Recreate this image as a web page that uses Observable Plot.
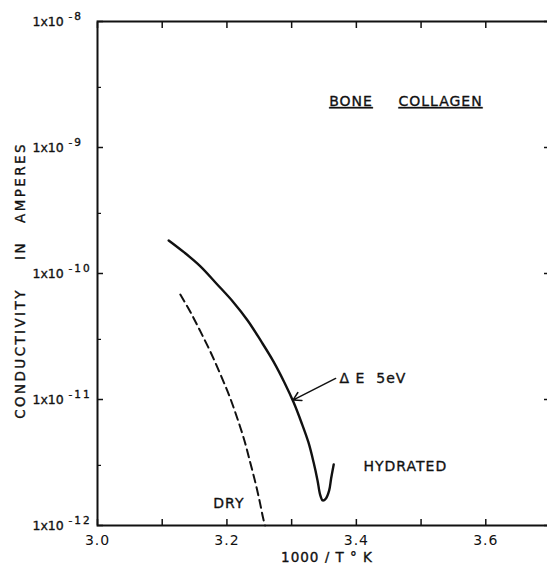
<!DOCTYPE html>
<html><head><meta charset="utf-8">
<script src="https://cdn.jsdelivr.net/npm/d3@7"></script>
<script src="https://cdn.jsdelivr.net/npm/@observablehq/plot@0.6"></script>
<style>html,body{margin:0;padding:0;background:#fff;overflow:hidden}</style>
</head><body><div id="chart"></div>
<script>
// ---- data ----
const xTickValues = [3.0, 3.1, 3.2, 3.3, 3.4, 3.5, 3.6, 3.7];
const xTickLabels = [3.0, 3.2, 3.4, 3.6];
const yTickValues = [1e-8, 1e-9, 1e-10, 1e-11, 1e-12];
const yTickExponents = ["-8", "-9", "-10", "-11", "-12"];
const yMinorTicks = [3e-9, 3e-10, 3e-11, 3e-12];

// hydrated bone collagen (solid)
const hydratedX = [3.110, 3.134, 3.159, 3.184, 3.209, 3.232, 3.253, 3.272, 3.289, 3.303, 3.315, 3.326, 3.334, 3.340, 3.344, 3.348, 3.353, 3.358, 3.361, 3.365];
const hydratedY = [1.83e-10, 1.47e-10, 1.14e-10, 8.3e-11, 6.0e-11, 4.24e-11, 2.89e-11, 2.0e-11, 1.36e-11, 9.5e-12, 6.6e-12, 4.56e-12, 3.16e-12, 2.28e-12, 1.76e-12, 1.58e-12, 1.64e-12, 1.9e-12, 2.36e-12, 3.05e-12];

// dry bone collagen (dashed)
const dryX = [3.128, 3.144, 3.159, 3.175, 3.190, 3.204, 3.216, 3.227, 3.236, 3.244, 3.251, 3.256, 3.259];
const dryY = [6.8e-11, 4.9e-11, 3.47e-11, 2.36e-11, 1.58e-11, 1.06e-11, 7.1e-12, 4.73e-12, 3.16e-12, 2.19e-12, 1.52e-12, 1.14e-12, 1.0e-12];

const notes = [
  {text: "BONE", x: 3.358, y: Math.pow(10, -8.635), underline: true},
  {text: "COLLAGEN", x: 3.465, y: Math.pow(10, -8.635), underline: true},
  {text: "HYDRATED", x: 3.411, y: Math.pow(10, -11.532), underline: false},
  {text: "DRY", x: 3.179, y: Math.pow(10, -11.825), underline: false},
  {text: "Δ E\u00a0\u00a05eV", x: 3.374, y: Math.pow(10, -10.833), underline: false}
];
const arrowData = [{x1: 3.368, y1: 1.47e-11, x2: 3.302, y2: 9.9e-12}];

const yTitleWords = ["CONDUCTIVITY", "IN", "AMPERES"];
const yTitleShift = [80, -23, -91];
const xTitle = ["1000\u00a0/\u00a0T\u00a0°\u00a0K"];

const hydrated = hydratedX.map((x, i) => ({x, y: hydratedY[i]}));
const dry = dryX.map((x, i) => ({x, y: dryY[i]}));
const yTicks = yTickValues.map((v, i) => ({v, e: yTickExponents[i]}));

const font = "'DejaVu Sans', sans-serif";
const ink = "#111";
const thick = {fill: ink, stroke: ink, strokeWidth: 0.35};

const chart = Plot.plot({
  width: 547,
  height: 563,
  marginLeft: 97,
  marginRight: -3,
  marginTop: 21,
  marginBottom: 38,
  style: {fontFamily: font, color: ink, background: "#fff", letterSpacing: "1px"},
  x: {type: "linear", domain: [3.0, 3.7], label: null},
  y: {type: "log", domain: [1e-12, 1e-8], label: null},
  marks: [
    Plot.frame({stroke: ink, strokeWidth: 2}),
    // inward ticks
    Plot.axisX(xTickValues, {anchor: "bottom", tickSize: -6, tickFormat: () => "", strokeWidth: 1.5, label: null}),
    Plot.axisX(xTickValues, {anchor: "top", tickSize: -6, tickFormat: () => "", strokeWidth: 1.5, label: null}),
    Plot.axisY(yTickValues, {anchor: "left", tickSize: -6, tickFormat: () => "", strokeWidth: 1.5, label: null}),
    Plot.axisY(yTickValues, {anchor: "right", tickSize: -7, tickFormat: () => "", strokeWidth: 1.5, label: null}),
    Plot.axisY(yMinorTicks, {anchor: "left", tickSize: -4, tickFormat: () => "", strokeWidth: 1.2, label: null}),
    // x tick labels
    Plot.axisX(xTickLabels, {anchor: "bottom", tickSize: 0, tickPadding: 10, tickFormat: d3.format(".1f"), fontSize: 14, ...thick, label: null}),
    // y tick labels: base + exponent
    Plot.text(yTicks, {frameAnchor: "left", y: "v", text: () => "1x10", dx: -65, textAnchor: "start", fontSize: 12.5, ...thick}),
    Plot.text(yTicks, {frameAnchor: "left", y: "v", text: "e", dx: -29, dy: -5, textAnchor: "start", fontSize: 10.5, ...thick}),
    // curves
    Plot.line(hydrated, {x: "x", y: "y", curve: "catmull-rom", stroke: ink, strokeWidth: 2.4}),
    Plot.line(dry, {x: "x", y: "y", curve: "catmull-rom", stroke: ink, strokeWidth: 2, strokeDasharray: "8,5"}),
    // annotations
    Plot.arrow(arrowData, {x1: "x1", y1: "y1", x2: "x2", y2: "y2", stroke: ink, strokeWidth: 1.5, headLength: 9}),
    Plot.text(notes, {x: "x", y: "y", text: "text", fontSize: 14, textAnchor: "start", ...thick}),
    // axis titles
    ...yTitleWords.map((w, i) => Plot.text([w], {frameAnchor: "left", text: d => d, rotate: -90, dx: -77, dy: yTitleShift[i], textAnchor: "middle", fontSize: 13.5, ...thick})),
    Plot.text(xTitle, {frameAnchor: "bottom", text: d => d, dx: 3, dy: 36, fontSize: 13.5, ...thick})
  ]
});

d3.select(chart).selectAll("text")
  .filter(function() { return notes.some(n => n.underline && n.text === this.textContent); })
  .attr("text-decoration", "underline");
d3.select(chart).selectAll("text")
  .filter(function() { return yTitleWords.includes(this.textContent); })
  .style("letter-spacing", "2.4px");
d3.select(chart).selectAll("text")
  .filter(function() { return this.textContent === "1x10"; })
  .style("letter-spacing", "0px");
d3.select(chart).selectAll("text")
  .filter(function() { return yTickExponents.includes(this.textContent); })
  .style("letter-spacing", "2px");

document.getElementById("chart").appendChild(chart);
</script>
</body></html>
